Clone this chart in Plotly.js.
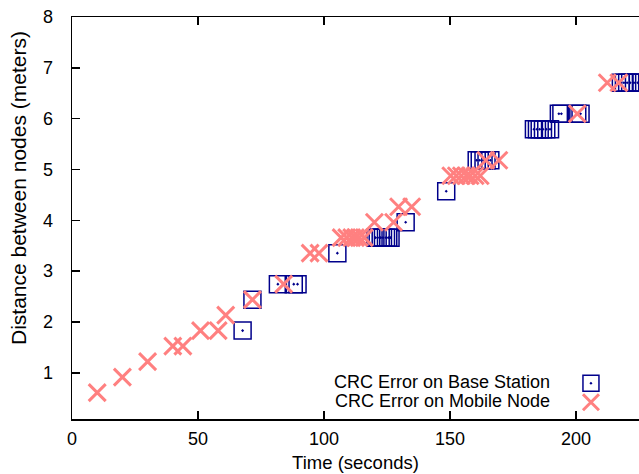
<!DOCTYPE html>
<html>
<head>
<meta charset="utf-8">
<script src="https://cdn.plot.ly/plotly-3.0.1.min.js"></script>
<style>html,body{margin:0;padding:0;background:#fff;overflow:hidden}#chart{width:639px;height:474px}</style>
</head>
<body>
<div id="chart"></div>
<script>
// Mobile node CRC errors: time (s), distance (m)
const mobileTime = [10, 20, 30, 40, 44, 51, 58, 61, 71.6, 84,
  94.5, 98, 106.8, 109, 111, 112.5, 114, 116,
  120, 127.6, 129.6, 134.8,
  150.3, 152.5, 154.5, 156.5, 158, 160, 162,
  164.2, 169.4, 200.5, 212.4, 217];
const mobileDist = [0.610, 0.914, 1.219, 1.524, 1.524, 1.829, 1.829, 2.134, 2.438, 2.743,
  3.353, 3.353, 3.658, 3.658, 3.658, 3.658, 3.658, 3.658,
  3.962, 3.962, 4.267, 4.267,
  4.877, 4.877, 4.877, 4.877, 4.877, 4.877, 4.877,
  5.182, 5.182, 6.096, 6.706, 6.706];

// Base station CRC errors: time (s), distance (m)
const baseTime = [67.7, 71.6, 81.7, 88, 89.5, 105.3,
  120.4, 121.3, 122.5, 123.4, 124.6, 125.5, 126.4,
  132.4, 148.5,
  160.6, 161.8, 163.3, 164.5, 166,
  183.3, 184.5, 185.6, 186.9, 188.2, 189.7,
  193.2, 194.2, 200.5, 201.8,
  217.8, 219, 220.3, 221.5, 223, 224.5, 226];
const baseDist = [1.829, 2.438, 2.743, 2.743, 2.743, 3.353,
  3.658, 3.658, 3.658, 3.658, 3.658, 3.658, 3.658,
  3.962, 4.572,
  5.182, 5.182, 5.182, 5.182, 5.182,
  5.791, 5.791, 5.791, 5.791, 5.791, 5.791,
  6.096, 6.096, 6.096, 6.096,
  6.706, 6.706, 6.706, 6.706, 6.706, 6.706, 6.706];

const seriesNames = ["CRC Error on Base Station", "CRC Error on Mobile Node"];
const xTicks = [0, 50, 100, 150, 200];
const yTicks = [1, 2, 3, 4, 5, 6, 7, 8];

const NAVY = "#00008b";
const PINK = "#ff8080";
const FONT = "Liberation Sans, Arial, sans-serif";

const traces = [
  {
    x: baseTime, y: baseDist, type: "scatter", mode: "markers", name: " ",
    marker: {symbol: "square-open-dot", size: 17, color: NAVY, line: {width: 1.5, color: NAVY}},
    cliponaxis: true, hoverinfo: "x+y"
  },
  {
    x: mobileTime, y: mobileDist, type: "scatter", mode: "markers", name: " ",
    marker: {symbol: "x-thin-open", size: 17, color: PINK, line: {width: 3, color: PINK}},
    cliponaxis: true, hoverinfo: "x+y"
  }
];

const axisCommon = {
  showgrid: false, zeroline: false, showline: true, linecolor: "#000", linewidth: 1.5,
  ticks: "inside", ticklen: 8, tickwidth: 1.5, tickcolor: "#000",
  tickfont: {family: FONT, size: 18, color: "#000"}
};

const layout = {
  width: 639, height: 474,
  margin: {l: 72, r: 0, t: 17, b: 55},
  paper_bgcolor: "#fff", plot_bgcolor: "#fff",
  font: {family: FONT, size: 18, color: "#000"},
  showlegend: true,
  legend: {x: 0.88, y: 0.125, xanchor: "left", yanchor: "top", bgcolor: "rgba(0,0,0,0)",
    font: {family: FONT, size: 12}, tracegroupgap: 0},
  xaxis: Object.assign({}, axisCommon, {
    range: [0, 225], tickvals: xTicks, ticktext: xTicks.map(String), mirror: "ticks",
    ticklabelstandoff: 3,
    title: {text: "Time (seconds)", font: {family: FONT, size: 18.5, color: "#000"}, standoff: 8}
  }),
  yaxis: Object.assign({}, axisCommon, {
    range: [0.09, 8], tickvals: yTicks, ticktext: yTicks.map(String), mirror: false,
    ticklabelstandoff: 14
  }),
  annotations: [
    {xref: "paper", yref: "paper", x: -0.0952, y: 0.5746, text: "Distance between nodes (meters)",
     textangle: -90, showarrow: false, xanchor: "center", yanchor: "middle",
     font: {family: FONT, size: 21, color: "#000"}},
    {xref: "paper", yref: "paper", x: 0.8466, y: 0.092, text: seriesNames[0], showarrow: false,
     xanchor: "right", yanchor: "middle", font: {family: FONT, size: 18, color: "#000"}},
    {xref: "paper", yref: "paper", x: 0.8466, y: 0.045, text: seriesNames[1], showarrow: false,
     xanchor: "right", yanchor: "middle", font: {family: FONT, size: 18, color: "#000"}}
  ]
};

Plotly.newPlot("chart", traces, layout, {staticPlot: true, displayModeBar: false});
</script>
</body>
</html>
